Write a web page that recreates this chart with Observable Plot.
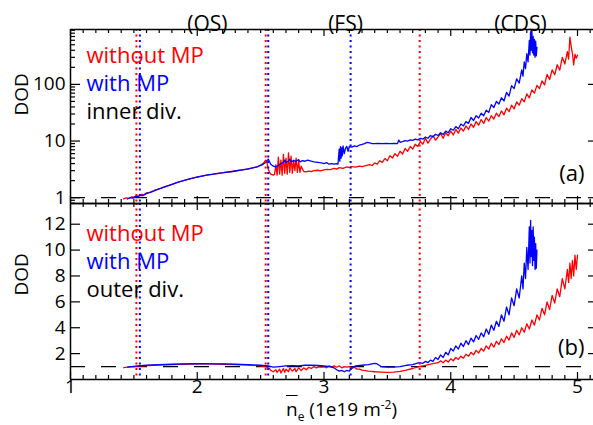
<!DOCTYPE html>
<html><head><meta charset="utf-8">
<script src="https://cdn.jsdelivr.net/npm/d3@7"></script>
<script src="https://cdn.jsdelivr.net/npm/@observablehq/plot@0.6"></script>
<style>
body{margin:0;background:#fff;}
#chart{position:relative;width:593px;height:425px;font-family:"Open Sans",sans-serif;}
#chart svg{position:absolute;left:0;overflow:visible;}
#xlabel{position:absolute;left:286px;top:400px;font-size:19px;line-height:19px;white-space:nowrap;color:#000;}
#xlabel .ov{text-decoration:overline;}
#xlabel sub{font-size:12px;vertical-align:-5px;line-height:0;}
#xlabel sup{font-size:12px;vertical-align:7px;line-height:0;}
</style></head><body><div id="chart"></div>
<script>
// ---- data ----
const xTickLabels = [1, 2, 3, 4, 5];
const innerTickLabels = [1, 10, 100];
const innerMinorTicks = [0.8, 0.9, 2, 3, 4, 5, 6, 7, 8, 9, 20, 30, 40, 50, 60, 70, 80, 90, 200, 300, 400, 500, 600, 700, 800, 900];
const outerTickLabels = [2, 4, 6, 8, 10, 12];
const regionNames = ["(OS)", "(FS)", "(CDS)"];
const regionCenters = [2.08, 3.17, 4.55];
const redTransitions = [1.52, 2.54, 3.755];
const blueTransitions = [1.547, 2.56, 3.21];
const seriesNames = ["without MP", "with MP"];

const redInner = [
[1.42,0.95],[1.44,0.99],[1.46,0.97],[1.48,1.03],[1.5,1.02],[1.52,1.08],[1.54,1.07],[1.56,1.14],[1.58,1.13],[1.6,1.22],[1.63,1.25],[1.66,1.34],[1.69,1.4],[1.72,1.5],[1.75,1.56],[1.78,1.67],[1.81,1.74],[1.84,1.86],[1.87,1.93],[1.9,2.05],[1.93,2.1],[1.96,2.22],[2.0,2.3],[2.04,2.42],[2.08,2.5],[2.12,2.6],[2.16,2.66],[2.2,2.76],[2.24,2.82],[2.28,2.93],[2.32,3.0],[2.36,3.12],[2.4,3.2],[2.44,3.38],[2.47,3.5],[2.5,3.75],[2.52,4.0],[2.54,4.6],[2.55,4.2],
[2.56,3.2],[2.57,2.8],[2.58,2.6],[2.6,2.5],[2.61,2.6],[2.62,3.8],[2.63,2.5],[2.64,5.2],[2.65,2.6],[2.66,4.6],[2.67,2.5],[2.68,5.8],[2.69,2.7],[2.7,5.0],[2.71,2.6],[2.72,6.2],[2.73,2.8],[2.74,5.4],[2.75,2.7],[2.76,4.6],[2.77,3.0],[2.78,5.0],[2.79,2.8],[2.8,4.4],[2.81,2.8],[2.82,3.6],[2.84,2.9],[2.86,2.85],[2.88,2.95],[2.9,2.88],[2.92,3.0],[2.95,3.05],[2.97,2.98],[3.0,3.1],[3.02,3.15],[3.05,3.12],[3.08,3.3],[3.1,3.2],[3.12,3.4],[3.15,3.3],[3.18,3.5],[3.2,3.4],[3.22,3.55],[3.25,3.45],[3.28,3.6],[3.3,3.55],[3.33,3.7],[3.36,3.85],[3.38,3.7],[3.4,4.1],[3.42,3.9],[3.44,4.5],[3.46,4.2],[3.48,4.9],[3.5,4.5],[3.52,5.5],[3.54,5.0],[3.56,6.0],[3.58,5.4],[3.6,6.6],[3.62,5.9],[3.64,7.4],[3.66,6.6],[3.68,8.0],[3.7,7.2],[3.72,8.8],[3.74,8.0],[3.76,9.8],[3.78,8.8],[3.8,11.2],[3.82,9.2],[3.84,10.8],[3.86,12.4],[3.88,10.4],[3.9,11.8],[3.92,13.5],[3.94,11.2],[3.96,14],[3.98,12.4],[4.0,15],[4.02,12.8],[4.04,16],[4.06,13.8],[4.08,17],[4.1,15],[4.12,18.5],[4.14,16],[4.16,20],[4.18,17.5],[4.2,22],[4.22,19],[4.24,24],[4.26,20.5],[4.28,26],[4.3,22.5],[4.32,28],[4.34,24.5],[4.36,31],[4.38,27],[4.4,34],[4.42,29],[4.44,38],[4.46,33],[4.48,43],[4.5,37],[4.52,49],[4.54,43],[4.56,56],[4.58,49],[4.6,68],[4.62,58],[4.64,80],[4.66,70],[4.68,96],[4.7,84],[4.72,115],[4.74,98],[4.76,150],[4.78,122],[4.8,180],[4.82,148],[4.84,222],[4.86,178],[4.88,300],[4.9,228],[4.92,380],[4.93,280],[4.94,680],[4.95,470],[4.96,350],[4.97,220],[4.98,340],[4.99,290],[5.0,330]
];

const blueInner = [
[1.45,0.95],[1.47,1.0],[1.49,0.98],[1.51,1.05],[1.53,1.04],[1.55,1.1],[1.57,1.09],[1.6,1.18],[1.63,1.24],[1.66,1.32],[1.69,1.42],[1.72,1.48],[1.75,1.58],[1.78,1.65],[1.81,1.76],[1.84,1.84],[1.87,1.95],[1.9,2.02],[1.93,2.12],[1.96,2.2],[2.0,2.32],[2.04,2.4],[2.08,2.52],[2.12,2.58],[2.16,2.68],[2.2,2.74],[2.24,2.84],[2.28,2.9],[2.32,3.02],[2.36,3.1],[2.4,3.22],[2.44,3.35],[2.48,3.55],[2.51,3.8],[2.54,4.2],[2.56,4.8],[2.57,4.3],[2.58,3.9],[2.6,3.6],[2.62,3.5],[2.64,3.7],[2.66,4.0],[2.68,4.2],[2.69,4.6],[2.7,4.2],[2.72,4.4],[2.73,4.8],[2.74,4.3],[2.76,4.5],[2.78,4.4],[2.8,4.7],[2.81,4.3],[2.83,4.5],[2.85,4.4],[2.87,4.6],[2.9,4.4],[2.92,4.3],[2.95,4.2],[2.98,4.1],[3.0,4.0],[3.02,4.15],[3.04,3.9],[3.06,4.0],[3.08,3.9],[3.1,4.0],[3.11,3.9],[3.12,7.2],[3.125,4.4],[3.13,8.0],[3.135,5.0],[3.14,7.6],[3.145,5.5],[3.15,8.2],[3.16,6.0],[3.17,7.5],[3.18,8.0],[3.19,6.6],[3.2,8.0],[3.22,7.8],[3.24,8.2],[3.26,8.0],[3.28,8.5],[3.3,8.7],[3.32,9.0],[3.34,9.5],[3.36,9.3],[3.38,9.0],[3.4,9.0],[3.43,9.1],[3.46,9.0],[3.49,9.1],[3.52,9.0],[3.55,9.1],[3.58,9.0],[3.59,10.4],[3.6,9.5],[3.62,9.8],[3.64,10.2],[3.66,10],[3.68,10.5],[3.7,10.3],[3.72,10.8],[3.74,10.5],[3.76,11.2],[3.78,10.8],[3.8,11.8],[3.82,11.2],[3.84,12.5],[3.86,11.8],[3.88,13.2],[3.9,12.5],[3.92,14],[3.94,13],[3.96,15],[3.98,14],[4.0,16.5],[4.02,15.5],[4.04,18],[4.06,16.5],[4.08,20],[4.1,18.5],[4.12,22],[4.14,20.5],[4.16,26],[4.18,23],[4.2,28],[4.22,25.5],[4.24,31],[4.26,28],[4.28,35],[4.3,32],[4.32,44],[4.34,39],[4.36,50],[4.38,45],[4.4,58],[4.42,51],[4.44,72],[4.46,62],[4.48,95],[4.5,84],[4.52,125],[4.54,105],[4.56,180],[4.57,140],[4.58,250],[4.59,190],[4.6,350],[4.61,250],[4.62,600],[4.625,330],[4.63,850],[4.635,400],[4.64,900],[4.645,360],[4.65,700],[4.655,330],[4.66,620],[4.665,300],[4.67,580],[4.675,320],[4.68,450]
];

const redOuter = [
[1.42,0.92],[1.45,0.95],[1.5,1.0],[1.55,1.05],[1.6,1.08],[1.7,1.12],[1.8,1.15],[1.9,1.18],[2.0,1.2],[2.1,1.2],[2.2,1.18],[2.3,1.15],[2.4,1.12],[2.5,1.05],[2.53,1.0],[2.55,0.95],[2.57,0.85],[2.58,0.7],[2.6,0.6],[2.62,0.75],[2.63,0.55],[2.65,0.8],[2.66,0.5],[2.68,0.85],[2.69,0.55],[2.7,0.8],[2.72,0.6],[2.73,0.9],[2.75,0.65],[2.77,0.85],[2.78,0.6],[2.8,0.9],[2.82,0.7],[2.84,0.9],[2.86,0.75],[2.88,0.95],[2.9,0.85],[2.92,1.0],[2.94,0.9],[2.96,1.0],[2.98,0.95],[3.0,1.0],[3.02,0.9],[3.04,1.05],[3.06,0.95],[3.08,1.05],[3.1,0.95],[3.12,1.05],[3.14,0.9],[3.16,1.0],[3.18,0.95],[3.2,1.0],[3.22,0.85],[3.24,0.95],[3.26,0.8],[3.28,0.8],[3.3,0.72],[3.35,0.65],[3.4,0.6],[3.45,0.57],[3.5,0.55],[3.55,0.57],[3.6,0.62],[3.65,0.72],[3.7,0.85],[3.75,1.0],[3.8,1.1],[3.85,1.2],[3.9,1.3],[3.92,1.45],[3.94,1.3],[3.96,1.5],[3.98,1.35],[4.0,1.6],[4.02,1.45],[4.04,1.7],[4.06,1.55],[4.08,1.8],[4.1,1.65],[4.12,1.95],[4.14,1.8],[4.16,2.1],[4.18,1.9],[4.2,2.25],[4.22,2.05],[4.24,2.4],[4.26,2.2],[4.28,2.6],[4.3,2.35],[4.32,2.8],[4.34,2.5],[4.36,2.95],[4.38,2.7],[4.4,3.15],[4.42,2.85],[4.44,3.35],[4.46,3.05],[4.48,3.6],[4.5,3.25],[4.52,3.8],[4.54,3.45],[4.56,4.0],[4.58,3.65],[4.6,4.3],[4.62,3.9],[4.64,4.6],[4.66,4.2],[4.68,5.0],[4.7,4.6],[4.72,5.5],[4.74,5.0],[4.76,6.0],[4.78,5.4],[4.8,6.5],[4.82,5.9],[4.84,7.0],[4.86,6.4],[4.88,7.8],[4.9,7.0],[4.92,8.5],[4.93,7.5],[4.94,9.0],[4.95,7.8],[4.96,9.2],[4.97,8.0],[4.98,9.6],[4.99,8.5],[5.0,9.6]
];

const blueOuter = [
[1.45,0.95],[1.5,1.02],[1.55,1.07],[1.6,1.1],[1.7,1.15],[1.8,1.18],[1.9,1.2],[2.0,1.22],[2.1,1.2],[2.2,1.2],[2.3,1.18],[2.4,1.15],[2.5,1.1],[2.56,1.05],[2.6,0.95],[2.65,1.0],[2.7,1.05],[2.75,1.08],[2.8,1.05],[2.85,1.1],[2.9,1.1],[2.95,1.08],[3.0,1.05],[3.05,1.0],[3.08,0.9],[3.1,0.75],[3.12,0.65],[3.14,0.7],[3.16,0.6],[3.18,0.7],[3.2,0.65],[3.22,0.9],[3.25,1.05],[3.3,1.1],[3.35,1.15],[3.4,1.25],[3.42,1.2],[3.45,1.0],[3.5,0.95],[3.55,0.95],[3.6,1.0],[3.65,1.1],[3.7,1.15],[3.75,1.3],[3.78,1.25],[3.8,1.4],[3.82,1.3],[3.84,1.5],[3.86,1.4],[3.88,1.7],[3.9,1.55],[3.92,1.9],[3.94,1.7],[3.96,2.1],[3.98,1.9],[4.0,2.4],[4.02,2.2],[4.04,2.6],[4.06,2.35],[4.08,2.8],[4.1,2.55],[4.12,3.0],[4.14,2.7],[4.16,3.2],[4.18,2.9],[4.2,3.4],[4.22,3.1],[4.24,3.6],[4.26,3.3],[4.28,3.9],[4.3,3.5],[4.32,4.2],[4.34,3.8],[4.36,4.5],[4.38,4.1],[4.4,5.0],[4.42,4.5],[4.44,5.6],[4.46,5.0],[4.48,6.3],[4.5,5.7],[4.52,7.0],[4.54,6.3],[4.56,8.0],[4.57,7.0],[4.58,9.0],[4.59,7.8],[4.6,10.2],[4.61,8.5],[4.62,11.8],[4.625,9.0],[4.63,12.3],[4.635,9.5],[4.64,11.5],[4.645,8.8],[4.65,11.8],[4.655,9.2],[4.66,11.0],[4.665,8.5],[4.67,10.5],[4.675,8.6],[4.68,10.0]
];

// ---- layout ----
const RED = "#ff0000", BLUE = "#0000ff";
const W = 593, ML = 70, MR = 0, FW = W - ML - MR;
const xDomain = [1, 1 + FW / 126.75];
const xMinor = d3.range(1.1, 5.15, 0.1).filter(v => Math.abs(v - Math.round(v)) > 0.01);
const FONT = "Open Sans, sans-serif";
const TICKFS = 19, LEGFS = 22;

function frameMarks(H, yLo, yHi) {
  return [
    Plot.ruleX([xDomain[0]], {stroke: "black", strokeWidth: 1.5}),
    Plot.ruleY([yLo, yHi], {stroke: "black", strokeWidth: 1.5}),
    Plot.ruleX(xTickLabels, {x: d => d, insetBottom: H - 7, stroke: "black", strokeWidth: 1.2}),
    Plot.ruleX(xMinor, {x: d => d, insetBottom: H - 4, stroke: "black", strokeWidth: 1.2}),
    Plot.ruleX(xTickLabels, {x: d => d, insetTop: H - 7, stroke: "black", strokeWidth: 1.2}),
    Plot.ruleX(xMinor, {x: d => d, insetTop: H - 4, stroke: "black", strokeWidth: 1.2})
  ];
}
function vlineMarks() {
  return [
    Plot.ruleX(redTransitions, {x: d => d, stroke: RED, strokeWidth: 2, strokeDasharray: "2,3.5"}),
    Plot.ruleX(blueTransitions, {x: d => d, stroke: BLUE, strokeWidth: 2, strokeDasharray: "2,3.5"})
  ];
}
function legendMarks(third, dys) {
  return [
    Plot.text([seriesNames[0]], {frameAnchor: "top-left", dx: 16, dy: dys[0], textAnchor: "start", fill: RED, fontSize: LEGFS, fontFamily: FONT}),
    Plot.text([seriesNames[1]], {frameAnchor: "top-left", dx: 16, dy: dys[1], textAnchor: "start", fill: BLUE, fontSize: LEGFS, fontFamily: FONT}),
    Plot.text([third], {frameAnchor: "top-left", dx: 16, dy: dys[2], textAnchor: "start", fill: "black", fontSize: LEGFS, fontFamily: FONT})
  ];
}

// top panel (inner divertor, log)
const topH = 174;
const yTop = [0.79, 930];
const topPlot = Plot.plot({
  width: W, height: 29 + topH, marginTop: 29, marginBottom: 0, marginLeft: ML, marginRight: MR,
  style: {background: "transparent", fontFamily: FONT, overflow: "visible"},
  x: {domain: xDomain, axis: null},
  y: {type: "log", domain: yTop, axis: null},
  marks: [
    Plot.ruleY([1], {stroke: "black", strokeWidth: 1.2, strokeDasharray: "15,16"}),
    Plot.line(redInner, {x: d => d[0], y: d => d[1], stroke: RED, strokeWidth: 1.3}),
    Plot.line(blueInner, {x: d => d[0], y: d => d[1], stroke: BLUE, strokeWidth: 1.3}),
    ...vlineMarks(),
    ...frameMarks(topH, yTop[0], yTop[1]),
    Plot.ruleY(innerTickLabels, {y: d => d, insetRight: FW - 10, stroke: "black", strokeWidth: 1.2}),
    Plot.ruleY(innerMinorTicks, {y: d => d, insetRight: FW - 5, stroke: "black", strokeWidth: 1.2}),
    Plot.ruleY(innerTickLabels, {y: d => d, insetLeft: FW - 5, stroke: "black", strokeWidth: 1.2}),
    Plot.text(innerTickLabels, {y: d => d, text: d => String(d), frameAnchor: "left", textAnchor: "end", dx: -5, fontSize: TICKFS, fontFamily: FONT, fill: "black"}),
    Plot.text(["DOD"], {frameAnchor: "left", rotate: -90, dx: -49, dy: -1, fontSize: 19, fontFamily: FONT, fill: "black"}),
    Plot.text(regionNames, {x: (d, i) => regionCenters[i], text: d => d, frameAnchor: "top", dy: -13, fontSize: 21, fontFamily: FONT, fill: "black"}),
    Plot.text(["(a)"], {frameAnchor: "bottom-right", textAnchor: "end", dx: -9, dy: -23, fontSize: LEGFS, fontFamily: FONT, fill: "black"}),
    ...legendMarks("inner div.", [18, 46, 74])
  ]
});

// bottom panel (outer divertor, linear)
const botH = 176;
const yBot = [0, 13.6];
const bottomPlot = Plot.plot({
  width: W, height: botH + 46, marginTop: 0, marginBottom: 46, marginLeft: ML, marginRight: MR,
  style: {background: "transparent", fontFamily: FONT, overflow: "visible"},
  x: {domain: xDomain, axis: null},
  y: {domain: yBot, axis: null},
  marks: [
    Plot.ruleY([1], {stroke: "black", strokeWidth: 1.2, strokeDasharray: "15,16"}),
    Plot.line(redOuter, {x: d => d[0], y: d => d[1], stroke: RED, strokeWidth: 1.3}),
    Plot.line(blueOuter, {x: d => d[0], y: d => d[1], stroke: BLUE, strokeWidth: 1.3}),
    ...vlineMarks(),
    ...frameMarks(botH, yBot[0], yBot[1]),
    Plot.ruleY(outerTickLabels, {y: d => d, insetRight: FW - 10, stroke: "black", strokeWidth: 1.2}),
    Plot.ruleY(outerTickLabels, {y: d => d, insetLeft: FW - 5, stroke: "black", strokeWidth: 1.2}),
    Plot.text(outerTickLabels, {y: d => d, text: d => String(d), frameAnchor: "left", textAnchor: "end", dx: -5, fontSize: TICKFS, fontFamily: FONT, fill: "black"}),
    Plot.text(xTickLabels, {x: d => d, text: d => String(d), frameAnchor: "bottom", dy: 13, fontSize: TICKFS, fontFamily: FONT, fill: "black"}),
    Plot.text(["DOD"], {frameAnchor: "left", rotate: -90, dx: -49, dy: 4, fontSize: 19, fontFamily: FONT, fill: "black"}),
    Plot.text(["(b)"], {frameAnchor: "bottom-right", textAnchor: "end", dx: -9, dy: -25, fontSize: LEGFS, fontFamily: FONT, fill: "black"}),
    ...legendMarks("outer div.", [22, 50, 78])
  ]
});

const chart = document.getElementById("chart");
topPlot.style.top = "0px";
bottomPlot.style.top = "203px";
chart.appendChild(topPlot);
chart.appendChild(bottomPlot);
const xl = document.createElement("div");
xl.id = "xlabel";
xl.innerHTML = '<span class="ov">n</span><sub>e</sub> (1e19 m<sup>-2</sup>)';
chart.appendChild(xl);
</script>
</body></html>
